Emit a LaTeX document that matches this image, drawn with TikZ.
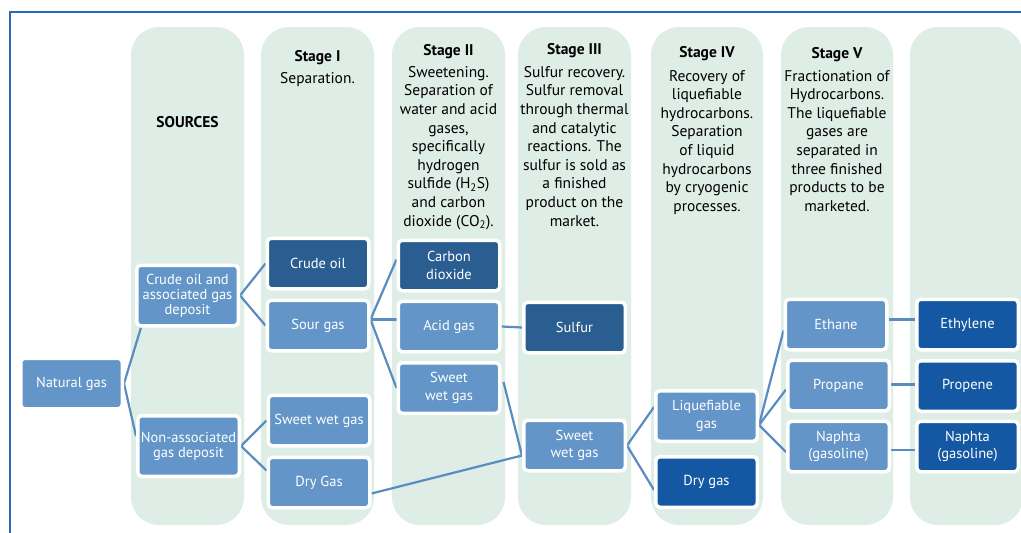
\documentclass[tikz,border=0pt]{standalone}
\usepackage{fontspec}
\setmainfont{PT Sans}
\definecolor{colbg}{RGB}{222,237,230}
\definecolor{lightbox}{RGB}{99,149,200}
\definecolor{slatebox}{RGB}{42,94,145}
\definecolor{royalbox}{RGB}{20,88,163}
\definecolor{linkc}{RGB}{91,140,192}
\definecolor{framec}{RGB}{40,105,185}
\pgfdeclarelayer{cols}
\pgfdeclarelayer{links}
\pgfsetlayers{cols,links,main}
\begin{document}
\begin{tikzpicture}[x=1pt,y=-1pt,
  col/.style={fill=colbg, rounded corners=28pt},
  box/.style={draw=white, line width=3.5pt, rounded corners=4pt, minimum width=101.5pt, minimum height=50.5pt, inner sep=1pt, align=center, text=white, font=\fontsize{14.5}{17.5}\selectfont},
  tallbox/.style={minimum height=60.5pt, font=\fontsize{14.5}{15}\selectfont},
  lbox/.style={box, fill=lightbox},
  sbox/.style={box, fill=slatebox},
  rbox/.style={box, fill=royalbox},
  link/.style={draw=linkc, line width=2.2pt},
  head/.style={font=\fontsize{15.5}{18.6}\selectfont\bfseries, anchor=base, inner sep=0},
  body/.style={font=\fontsize{15.5}{18.6}\selectfont, align=center, anchor=north, inner sep=0},
]
\useasboundingbox (0,0) rectangle (1021,533);
\clip (0,0) rectangle (1021,533);

% columns
\begin{pgfonlayer}{cols}
\fill[white] (0,0) rectangle (1021,533);
\draw[framec, line width=1.5pt] (10,540) -- (10,12) -- (1030,12);
\fill[col] (131,27) rectangle (244,525);
\fill[col] (261,27) rectangle (374,525);
\fill[col] (392,27) rectangle (505,525);
\fill[col] (518,27) rectangle (631,525);
\fill[col] (651,27) rectangle (763,525);
\fill[col] (781,27) rectangle (893,525);
\fill[col] (910,27) rectangle (1023,525);
\end{pgfonlayer}

% headings and descriptions
\node[head] (hsrc) at (187.5,127) {SOURCES};
\node[head] (h1) at (317.5,61) {Stage I};
\node[body] (b1) at (317.5,72) {Separation.};
\node[head] (h2) at (448.5,55) {Stage II};
\node[body] (b2) at (448.5,66) {Sweetening.\\Separation of\\water and acid\\gases,\\specifically\\hydrogen\\sulfide (H\textsubscript{2}S)\\and carbon\\dioxide (CO\textsubscript{2}).};
\node[head] (h3) at (574.5,54) {Stage III};
\node[body] (b3) at (574.5,66) {Sulfur recovery.\\Sulfur removal\\through thermal\\and catalytic\\reactions. The\\sulfur is sold as\\a finished\\product on the\\market.};
\node[head] (h4) at (707,57) {Stage IV};
\node[body] (b4) at (707,70) {Recovery of\\liquefiable\\hydrocarbons.\\Separation\\of liquid\\hydrocarbons\\by cryogenic\\processes.};
\node[head] (h5) at (837,58) {Stage V};
\node[body] (b5) at (837,70) {Fractionation of\\Hydrocarbons.\\The liquefiable\\gases are\\separated in\\three finished\\products to be\\marketed.};

% boxes
\node[lbox] (ng) at (71.5,383.5) {Natural gas};
\node[lbox,tallbox] (assoc) at (187.5,295.5) {Crude oil and\\associated gas\\deposit};
\node[lbox,tallbox] (nonassoc) at (188.5,446) {Non-associated\\gas deposit};
\node[sbox] (crude) at (318,263.5) {Crude oil};
\node[lbox] (sour) at (318,325.5) {Sour gas};
\node[lbox] (sweet1) at (319,420.5) {Sweet wet gas};
\node[lbox] (dry1) at (319,482.5) {Dry Gas};
\node[sbox] (carbon) at (449,265.5) {Carbon\\dioxide};
\node[lbox] (acid) at (449,326.5) {Acid gas};
\node[lbox] (sweet2) at (449,388) {Sweet\\wet gas};
\node[sbox] (sulfur) at (574.5,327.5) {Sulfur};
\node[lbox] (sweet3) at (574.5,445.5) {Sweet\\wet gas};
\node[lbox] (liq) at (706.5,416) {Liquefiable\\gas};
\node[rbox] (dry4) at (706.5,482) {Dry gas};
\node[lbox] (ethane) at (836,324.5) {Ethane};
\node[lbox] (propane) at (838.5,385.5) {Propane};
\node[lbox] (naphta) at (838.5,446.5) {Naphta\\(gasoline)};
\node[rbox] (ethylene) at (967.5,324.5) {Ethylene};
\node[rbox] (propene) at (967.5,386) {Propene};
\node[rbox] (naphta2) at (967.5,446.5) {Naphta\\(gasoline)};

% connectors
\begin{pgfonlayer}{links}
\draw[link] (ng.east) -- ([xshift=6pt]assoc.south west);
\draw[link] (ng.east) -- ([yshift=10pt]nonassoc.west);
\draw[link] (assoc.east) -- (crude.west);
\draw[link] (assoc.east) -- (sour.west);
\draw[link] (nonassoc.east) -- (sweet1.west);
\draw[link] (nonassoc.east) -- ([yshift=12pt]dry1.west);
\draw[link] ([yshift=6pt]sour.east) -- ([yshift=6pt]carbon.west);
\draw[link] ([yshift=6pt]sour.east) -- ([yshift=7pt]acid.west);
\draw[link] ([yshift=6pt]sour.east) -- (sweet2.west);
\draw[link] (acid.east) -- (sulfur.west);
\draw[link] ([xshift=2pt,yshift=6pt]sweet2.east) -- ([yshift=-10pt]sweet3.west);
\draw[link] ([yshift=-11pt]dry1.east) -- ([yshift=-10pt]sweet3.west);
\draw[link] (sweet3.east) -- ([yshift=9pt]liq.west);
\draw[link] (sweet3.east) -- ([yshift=-8pt]dry4.west);
\draw[link] ([yshift=-9pt]liq.east) -- ([yshift=-6pt]ethane.west);
\draw[link] ([yshift=-9pt]liq.east) -- ([yshift=-4pt]propane.west);
\draw[link] ([yshift=-9pt]liq.east) -- ([yshift=-5.5pt]naphta.west);
\draw[link] ([yshift=5pt]ethane.east) -- ([yshift=5pt]ethylene.west);
\draw[link] ([yshift=1pt]propane.east) -- ([yshift=1.5pt]propene.west);
\draw[link] ([yshift=-3.5pt]naphta.east) -- ([yshift=-3.5pt]naphta2.west);
\end{pgfonlayer}
\end{tikzpicture}
\end{document}
